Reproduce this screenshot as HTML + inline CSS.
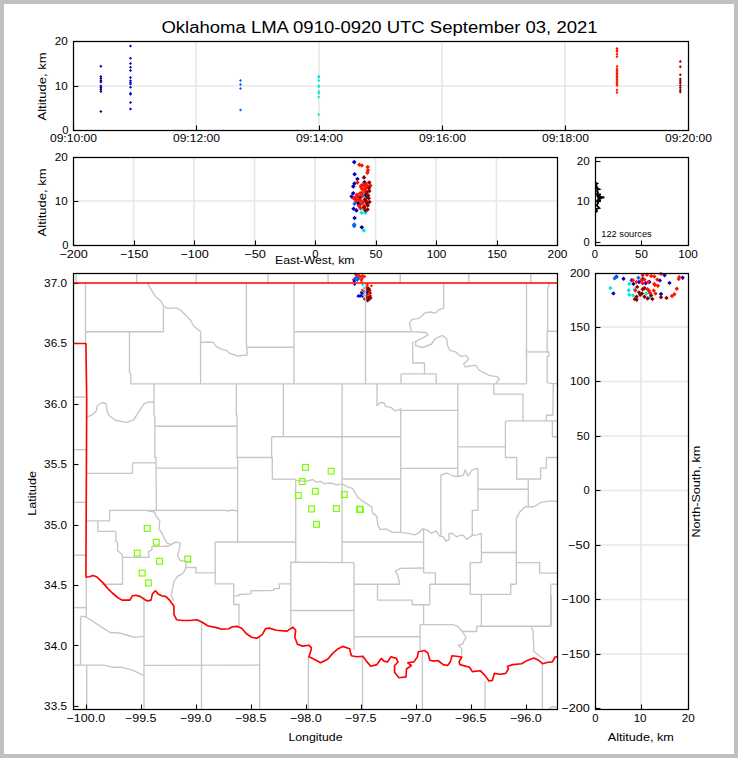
<!DOCTYPE html>
<html><head><meta charset="utf-8"><style>html,body{margin:0;padding:0;background:#c0c0c0;overflow:hidden}svg{display:block}</style></head>
<body><svg width="738" height="758" viewBox="0 0 738 758" font-family='"Liberation Sans", sans-serif'><rect x="0" y="0" width="738" height="758" fill="#c0c0c0"/>
<rect x="4" y="4" width="730" height="750" fill="#fff"/>
<text x="161.40" y="32.60" font-size="16.00" textLength="436.18" lengthAdjust="spacingAndGlyphs" fill="#000" >Oklahoma LMA 0910-0920 UTC September 03, 2021</text>
<line x1="196.00" y1="41.50" x2="196.00" y2="130.50" stroke="#e8e8e8" stroke-width="1.6"/>
<line x1="319.00" y1="41.50" x2="319.00" y2="130.50" stroke="#e8e8e8" stroke-width="1.6"/>
<line x1="442.00" y1="41.50" x2="442.00" y2="130.50" stroke="#e8e8e8" stroke-width="1.6"/>
<line x1="565.00" y1="41.50" x2="565.00" y2="130.50" stroke="#e8e8e8" stroke-width="1.6"/>
<line x1="73.50" y1="86.00" x2="688.50" y2="86.00" stroke="#e8e8e8" stroke-width="1.6"/>
<g fill="#00008c"><path d="M100.9 64.8L102.4 66.3L100.9 67.8L99.4 66.3Z"/><path d="M100.9 74.9L102.4 76.4L100.9 77.9L99.4 76.4Z"/><path d="M100.9 77.1L102.4 78.6L100.9 80.1L99.4 78.6Z"/><path d="M100.9 79.2L102.4 80.7L100.9 82.2L99.4 80.7Z"/><path d="M100.9 80.6L102.4 82.1L100.9 83.6L99.4 82.1Z"/><path d="M100.9 84.6L102.4 86.1L100.9 87.6L99.4 86.1Z"/><path d="M100.9 86.3L102.4 87.8L100.9 89.3L99.4 87.8Z"/><path d="M100.9 87.9L102.4 89.4L100.9 90.9L99.4 89.4Z"/><path d="M100.9 90.1L102.4 91.6L100.9 93.1L99.4 91.6Z"/><path d="M100.9 110.1L102.4 111.6L100.9 113.1L99.4 111.6Z"/></g>
<g fill="#0000c0"><path d="M130.5 44.6L132.0 46.1L130.5 47.6L129.0 46.1Z"/><path d="M130.5 56.8L132.0 58.3L130.5 59.8L129.0 58.3Z"/><path d="M130.5 61.9L132.0 63.4L130.5 64.9L129.0 63.4Z"/><path d="M130.5 65.7L132.0 67.2L130.5 68.7L129.0 67.2Z"/><path d="M130.5 69.0L132.0 70.5L130.5 72.0L129.0 70.5Z"/><path d="M130.5 76.0L132.0 77.5L130.5 79.0L129.0 77.5Z"/><path d="M130.5 79.2L132.0 80.7L130.5 82.2L129.0 80.7Z"/><path d="M130.5 80.9L132.0 82.4L130.5 83.9L129.0 82.4Z"/><path d="M130.5 82.5L132.0 84.0L130.5 85.5L129.0 84.0Z"/><path d="M130.5 85.7L132.0 87.2L130.5 88.7L129.0 87.2Z"/><path d="M130.5 91.7L132.0 93.2L130.5 94.7L129.0 93.2Z"/><path d="M130.5 92.8L132.0 94.3L130.5 95.8L129.0 94.3Z"/><path d="M130.5 100.9L132.0 102.4L130.5 103.9L129.0 102.4Z"/><path d="M130.5 107.4L132.0 108.9L130.5 110.4L129.0 108.9Z"/></g>
<g fill="#0064ff"><path d="M240.5 79.1L242.0 80.6L240.5 82.1L239.0 80.6Z"/><path d="M240.5 83.1L242.0 84.6L240.5 86.1L239.0 84.6Z"/><path d="M240.5 87.0L242.0 88.5L240.5 90.0L239.0 88.5Z"/><path d="M240.5 108.4L242.0 109.9L240.5 111.4L239.0 109.9Z"/></g>
<g fill="#00e6dc"><path d="M318.7 74.8L320.2 76.3L318.7 77.8L317.2 76.3Z"/><path d="M318.7 75.8L320.2 77.3L318.7 78.8L317.2 77.3Z"/><path d="M318.7 79.0L320.2 80.5L318.7 82.0L317.2 80.5Z"/><path d="M318.7 84.5L320.2 86.0L318.7 87.5L317.2 86.0Z"/><path d="M318.7 85.3L320.2 86.8L318.7 88.3L317.2 86.8Z"/><path d="M318.7 89.9L320.2 91.4L318.7 92.9L317.2 91.4Z"/><path d="M318.7 91.8L320.2 93.3L318.7 94.8L317.2 93.3Z"/><path d="M318.7 95.5L320.2 97.0L318.7 98.5L317.2 97.0Z"/><path d="M318.7 113.0L320.2 114.5L318.7 116.0L317.2 114.5Z"/></g>
<g fill="#ff1400"><path d="M617.0 47.1L618.5 48.6L617.0 50.1L615.5 48.6Z"/><path d="M617.0 48.6L618.5 50.1L617.0 51.6L615.5 50.1Z"/><path d="M617.0 50.1L618.5 51.6L617.0 53.1L615.5 51.6Z"/><path d="M617.0 52.7L618.5 54.2L617.0 55.7L615.5 54.2Z"/><path d="M617.0 55.2L618.5 56.7L617.0 58.2L615.5 56.7Z"/><path d="M617.0 65.0L618.5 66.5L617.0 68.0L615.5 66.5Z"/><path d="M617.0 67.5L618.5 69.0L617.0 70.5L615.5 69.0Z"/><path d="M617.0 69.0L618.5 70.5L617.0 72.0L615.5 70.5Z"/><path d="M617.0 70.5L618.5 72.0L617.0 73.5L615.5 72.0Z"/><path d="M617.0 72.0L618.5 73.5L617.0 75.0L615.5 73.5Z"/><path d="M617.0 73.5L618.5 75.0L617.0 76.5L615.5 75.0Z"/><path d="M617.0 75.0L618.5 76.5L617.0 78.0L615.5 76.5Z"/><path d="M617.0 76.5L618.5 78.0L617.0 79.5L615.5 78.0Z"/><path d="M617.0 78.0L618.5 79.5L617.0 81.0L615.5 79.5Z"/><path d="M617.0 79.5L618.5 81.0L617.0 82.5L615.5 81.0Z"/><path d="M617.0 81.0L618.5 82.5L617.0 84.0L615.5 82.5Z"/><path d="M617.0 82.5L618.5 84.0L617.0 85.5L615.5 84.0Z"/><path d="M617.0 84.0L618.5 85.5L617.0 87.0L615.5 85.5Z"/><path d="M617.0 88.4L618.5 89.9L617.0 91.4L615.5 89.9Z"/><path d="M617.0 91.0L618.5 92.5L617.0 94.0L615.5 92.5Z"/></g>
<g fill="#8c0000"><path d="M680.3 60.1L681.8 61.6L680.3 63.1L678.8 61.6Z"/><path d="M680.3 65.3L681.8 66.8L680.3 68.3L678.8 66.8Z"/><path d="M680.3 73.2L681.8 74.7L680.3 76.2L678.8 74.7Z"/><path d="M680.3 77.5L681.8 79.0L680.3 80.5L678.8 79.0Z"/><path d="M680.3 79.5L681.8 81.0L680.3 82.5L678.8 81.0Z"/><path d="M680.3 81.5L681.8 83.0L680.3 84.5L678.8 83.0Z"/><path d="M680.3 84.0L681.8 85.5L680.3 87.0L678.8 85.5Z"/><path d="M680.3 86.2L681.8 87.7L680.3 89.2L678.8 87.7Z"/><path d="M680.3 88.5L681.8 90.0L680.3 91.5L678.8 90.0Z"/><path d="M680.3 90.4L681.8 91.9L680.3 93.4L678.8 91.9Z"/></g>
<rect x="73.50" y="41.50" width="615.00" height="89.00" fill="none" stroke="#000" stroke-width="1.25"/>
<line x1="73.50" y1="125.50" x2="73.50" y2="130.50" stroke="#000" stroke-width="1.1"/>
<line x1="196.50" y1="125.50" x2="196.50" y2="130.50" stroke="#000" stroke-width="1.1"/>
<line x1="319.50" y1="125.50" x2="319.50" y2="130.50" stroke="#000" stroke-width="1.1"/>
<line x1="442.50" y1="125.50" x2="442.50" y2="130.50" stroke="#000" stroke-width="1.1"/>
<line x1="565.50" y1="125.50" x2="565.50" y2="130.50" stroke="#000" stroke-width="1.1"/>
<line x1="688.50" y1="125.50" x2="688.50" y2="130.50" stroke="#000" stroke-width="1.1"/>
<line x1="73.50" y1="130.50" x2="78.50" y2="130.50" stroke="#000" stroke-width="1.1"/>
<line x1="73.50" y1="86.50" x2="78.50" y2="86.50" stroke="#000" stroke-width="1.1"/>
<line x1="73.50" y1="41.50" x2="78.50" y2="41.50" stroke="#000" stroke-width="1.1"/>
<text x="49.90" y="141.60" font-size="11.00" textLength="47.16" lengthAdjust="spacingAndGlyphs" fill="#000" >09:10:00</text>
<text x="172.90" y="141.60" font-size="11.00" textLength="47.16" lengthAdjust="spacingAndGlyphs" fill="#000" >09:12:00</text>
<text x="295.90" y="141.60" font-size="11.00" textLength="47.16" lengthAdjust="spacingAndGlyphs" fill="#000" >09:14:00</text>
<text x="418.90" y="141.60" font-size="11.00" textLength="47.16" lengthAdjust="spacingAndGlyphs" fill="#000" >09:16:00</text>
<text x="541.90" y="141.60" font-size="11.00" textLength="47.16" lengthAdjust="spacingAndGlyphs" fill="#000" >09:18:00</text>
<text x="664.90" y="141.60" font-size="11.00" textLength="47.16" lengthAdjust="spacingAndGlyphs" fill="#000" >09:20:00</text>
<text x="62.30" y="134.40" font-size="11.00" textLength="6.20" lengthAdjust="spacingAndGlyphs" fill="#000" >0</text>
<text x="54.81" y="89.90" font-size="11.00" textLength="12.91" lengthAdjust="spacingAndGlyphs" fill="#000" >10</text>
<text x="54.72" y="45.40" font-size="11.00" textLength="13.00" lengthAdjust="spacingAndGlyphs" fill="#000" >20</text>
<text x="-34.03" y="0" font-size="10.90" textLength="68.09" lengthAdjust="spacingAndGlyphs" fill="#000" transform="translate(46.30 86.50) rotate(-90)" >Altitude, km</text>
<line x1="133.50" y1="157.50" x2="133.50" y2="245.50" stroke="#e8e8e8" stroke-width="1.6"/>
<line x1="194.00" y1="157.50" x2="194.00" y2="245.50" stroke="#e8e8e8" stroke-width="1.6"/>
<line x1="254.50" y1="157.50" x2="254.50" y2="245.50" stroke="#e8e8e8" stroke-width="1.6"/>
<line x1="315.00" y1="157.50" x2="315.00" y2="245.50" stroke="#e8e8e8" stroke-width="1.6"/>
<line x1="375.50" y1="157.50" x2="375.50" y2="245.50" stroke="#e8e8e8" stroke-width="1.6"/>
<line x1="436.00" y1="157.50" x2="436.00" y2="245.50" stroke="#e8e8e8" stroke-width="1.6"/>
<line x1="496.50" y1="157.50" x2="496.50" y2="245.50" stroke="#e8e8e8" stroke-width="1.6"/>
<line x1="73.50" y1="201.00" x2="557.50" y2="201.00" stroke="#e8e8e8" stroke-width="1.6"/>
<g fill="#00008c"><path d="M364.5 179.9L366.8 182.2L364.5 184.5L362.2 182.2Z"/><path d="M359.2 202.5L361.5 204.8L359.2 207.1L356.9 204.8Z"/><path d="M358.2 200.8L360.5 203.1L358.2 205.4L355.9 203.1Z"/><path d="M365.4 192.6L367.7 194.9L365.4 197.2L363.1 194.9Z"/><path d="M361.8 224.9L364.1 227.2L361.8 229.5L359.5 227.2Z"/><path d="M360.2 195.2L362.5 197.5L360.2 199.8L357.9 197.5Z"/></g>
<g fill="#0000c0"><path d="M354.2 159.8L356.5 162.1L354.2 164.4L351.9 162.1Z"/><path d="M354.6 172.0L356.9 174.3L354.6 176.6L352.3 174.3Z"/><path d="M357.4 176.7L359.7 179.0L357.4 181.3L355.1 179.0Z"/><path d="M354.5 181.2L356.8 183.5L354.5 185.8L352.2 183.5Z"/><path d="M353.3 184.1L355.6 186.4L353.3 188.7L351.0 186.4Z"/><path d="M353.2 191.0L355.5 193.3L353.2 195.6L350.9 193.3Z"/><path d="M351.6 194.2L353.9 196.5L351.6 198.8L349.3 196.5Z"/><path d="M356.5 208.1L358.8 210.4L356.5 212.7L354.2 210.4Z"/><path d="M353.6 206.4L355.9 208.7L353.6 211.0L351.3 208.7Z"/><path d="M354.6 215.7L356.9 218.0L354.6 220.3L352.3 218.0Z"/></g>
<g fill="#0064ff"><path d="M354.6 201.5L356.9 203.8L354.6 206.1L352.3 203.8Z"/><path d="M354.2 223.6L356.5 225.9L354.2 228.2L351.9 225.9Z"/><path d="M355.5 195.2L357.8 197.5L355.5 199.8L353.2 197.5Z"/><path d="M354.2 222.3L356.5 224.6L354.2 226.9L351.9 224.6Z"/></g>
<g fill="#00e6dc"><path d="M361.5 210.4L363.8 212.7L361.5 215.0L359.2 212.7Z"/><path d="M365.4 210.4L367.7 212.7L365.4 215.0L363.1 212.7Z"/><path d="M363.8 228.2L366.1 230.5L363.8 232.8L361.5 230.5Z"/><path d="M363.5 206.8L365.8 209.1L363.5 211.4L361.2 209.1Z"/><path d="M364.8 189.6L367.1 191.9L364.8 194.2L362.5 191.9Z"/><path d="M362.8 193.9L365.1 196.2L362.8 198.5L360.5 196.2Z"/></g>
<g fill="#ff1400"><path d="M359.3 162.5L361.6 164.8L359.3 167.1L357.0 164.8Z"/><path d="M361.8 163.2L364.1 165.5L361.8 167.8L359.5 165.5Z"/><path d="M367.7 164.8L370.0 167.1L367.7 169.4L365.4 167.1Z"/><path d="M368.0 168.0L370.3 170.3L368.0 172.6L365.7 170.3Z"/><path d="M367.4 170.4L369.7 172.7L367.4 175.0L365.1 172.7Z"/><path d="M357.4 180.2L359.7 182.5L357.4 184.8L355.1 182.5Z"/><path d="M370.3 183.2L372.6 185.5L370.3 187.8L368.0 185.5Z"/><path d="M361.4 183.3L363.7 185.6L361.4 187.9L359.1 185.6Z"/><path d="M353.6 195.9L355.9 198.2L353.6 200.5L351.3 198.2Z"/><path d="M356.9 192.6L359.2 194.9L356.9 197.2L354.6 194.9Z"/><path d="M360.2 190.9L362.5 193.2L360.2 195.5L357.9 193.2Z"/><path d="M362.1 186.7L364.4 189.0L362.1 191.3L359.8 189.0Z"/><path d="M364.8 184.0L367.1 186.3L364.8 188.6L362.5 186.3Z"/><path d="M370.0 183.4L372.3 185.7L370.0 188.0L367.7 185.7Z"/><path d="M360.2 197.9L362.5 200.2L360.2 202.5L357.9 200.2Z"/><path d="M360.5 205.8L362.8 208.1L360.5 210.4L358.2 208.1Z"/><path d="M364.1 203.8L366.4 206.1L364.1 208.4L361.8 206.1Z"/><path d="M366.8 189.3L369.1 191.6L366.8 193.9L364.5 191.6Z"/><path d="M358.0 193.7L360.3 196.0L358.0 198.3L355.7 196.0Z"/><path d="M362.0 193.7L364.3 196.0L362.0 198.3L359.7 196.0Z"/><path d="M364.0 187.7L366.3 190.0L364.0 192.3L361.7 190.0Z"/><path d="M366.0 185.7L368.3 188.0L366.0 190.3L363.7 188.0Z"/><path d="M363.0 199.7L365.3 202.0L363.0 204.3L360.7 202.0Z"/><path d="M356.0 198.7L358.3 201.0L356.0 203.3L353.7 201.0Z"/><path d="M367.0 183.7L369.3 186.0L367.0 188.3L364.7 186.0Z"/><path d="M361.0 184.7L363.3 187.0L361.0 189.3L358.7 187.0Z"/><path d="M363.5 182.2L365.8 184.5L363.5 186.8L361.2 184.5Z"/><path d="M366.0 181.7L368.3 184.0L366.0 186.3L363.7 184.0Z"/><path d="M362.0 190.7L364.3 193.0L362.0 195.3L359.7 193.0Z"/><path d="M358.5 197.2L360.8 199.5L358.5 201.8L356.2 199.5Z"/><path d="M355.5 196.7L357.8 199.0L355.5 201.3L353.2 199.0Z"/><path d="M361.5 201.2L363.8 203.5L361.5 205.8L359.2 203.5Z"/><path d="M359.0 203.7L361.3 206.0L359.0 208.3L356.7 206.0Z"/></g>
<g fill="#8c0000"><path d="M364.0 175.1L366.3 177.4L364.0 179.7L361.7 177.4Z"/><path d="M369.3 180.2L371.6 182.5L369.3 184.8L367.0 182.5Z"/><path d="M369.3 188.6L371.6 190.9L369.3 193.2L367.0 190.9Z"/><path d="M368.1 193.2L370.4 195.5L368.1 197.8L365.8 195.5Z"/><path d="M368.7 195.9L371.0 198.2L368.7 200.5L366.4 198.2Z"/><path d="M364.8 197.2L367.1 199.5L364.8 201.8L362.5 199.5Z"/><path d="M366.8 201.2L369.1 203.5L366.8 205.8L364.5 203.5Z"/><path d="M367.7 203.1L370.0 205.4L367.7 207.7L365.4 205.4Z"/><path d="M364.1 205.1L366.4 207.4L364.1 209.7L361.8 207.4Z"/><path d="M367.0 194.7L369.3 197.0L367.0 199.3L364.7 197.0Z"/><path d="M366.0 198.7L368.3 201.0L366.0 203.3L363.7 201.0Z"/><path d="M369.0 185.7L371.3 188.0L369.0 190.3L366.7 188.0Z"/><path d="M366.5 190.7L368.8 193.0L366.5 195.3L364.2 193.0Z"/><path d="M369.5 199.7L371.8 202.0L369.5 204.3L367.2 202.0Z"/><path d="M367.5 207.2L369.8 209.5L367.5 211.8L365.2 209.5Z"/><path d="M365.5 208.2L367.8 210.5L365.5 212.8L363.2 210.5Z"/></g>
<rect x="73.50" y="157.50" width="484.00" height="88.00" fill="none" stroke="#000" stroke-width="1.25"/>
<line x1="73.50" y1="240.50" x2="73.50" y2="245.50" stroke="#000" stroke-width="1.1"/>
<line x1="134.50" y1="240.50" x2="134.50" y2="245.50" stroke="#000" stroke-width="1.1"/>
<line x1="194.50" y1="240.50" x2="194.50" y2="245.50" stroke="#000" stroke-width="1.1"/>
<line x1="255.50" y1="240.50" x2="255.50" y2="245.50" stroke="#000" stroke-width="1.1"/>
<line x1="315.50" y1="240.50" x2="315.50" y2="245.50" stroke="#000" stroke-width="1.1"/>
<line x1="376.50" y1="240.50" x2="376.50" y2="245.50" stroke="#000" stroke-width="1.1"/>
<line x1="436.50" y1="240.50" x2="436.50" y2="245.50" stroke="#000" stroke-width="1.1"/>
<line x1="497.50" y1="240.50" x2="497.50" y2="245.50" stroke="#000" stroke-width="1.1"/>
<line x1="557.50" y1="240.50" x2="557.50" y2="245.50" stroke="#000" stroke-width="1.1"/>
<line x1="73.50" y1="245.50" x2="78.50" y2="245.50" stroke="#000" stroke-width="1.1"/>
<line x1="73.50" y1="201.50" x2="78.50" y2="201.50" stroke="#000" stroke-width="1.1"/>
<line x1="73.50" y1="157.50" x2="78.50" y2="157.50" stroke="#000" stroke-width="1.1"/>
<text x="59.43" y="258.10" font-size="11.00" textLength="28.40" lengthAdjust="spacingAndGlyphs" fill="#000" >−200</text>
<text x="119.93" y="258.10" font-size="11.00" textLength="28.40" lengthAdjust="spacingAndGlyphs" fill="#000" >−150</text>
<text x="180.43" y="258.10" font-size="11.00" textLength="28.40" lengthAdjust="spacingAndGlyphs" fill="#000" >−100</text>
<text x="244.29" y="258.10" font-size="11.00" textLength="21.67" lengthAdjust="spacingAndGlyphs" fill="#000" >−50</text>
<text x="312.37" y="258.10" font-size="11.00" textLength="6.20" lengthAdjust="spacingAndGlyphs" fill="#000" >0</text>
<text x="369.59" y="258.10" font-size="11.00" textLength="12.87" lengthAdjust="spacingAndGlyphs" fill="#000" >50</text>
<text x="426.66" y="258.10" font-size="11.00" textLength="19.73" lengthAdjust="spacingAndGlyphs" fill="#000" >100</text>
<text x="487.16" y="258.10" font-size="11.00" textLength="19.73" lengthAdjust="spacingAndGlyphs" fill="#000" >150</text>
<text x="547.58" y="258.10" font-size="11.00" textLength="19.81" lengthAdjust="spacingAndGlyphs" fill="#000" >200</text>
<text x="62.30" y="249.40" font-size="11.00" textLength="6.20" lengthAdjust="spacingAndGlyphs" fill="#000" >0</text>
<text x="54.81" y="205.40" font-size="11.00" textLength="12.91" lengthAdjust="spacingAndGlyphs" fill="#000" >10</text>
<text x="54.72" y="161.40" font-size="11.00" textLength="13.00" lengthAdjust="spacingAndGlyphs" fill="#000" >20</text>
<text x="-34.03" y="0" font-size="10.90" textLength="68.09" lengthAdjust="spacingAndGlyphs" fill="#000" transform="translate(46.30 202.40) rotate(-90)" >Altitude, km</text>
<text x="275.04" y="263.60" font-size="10.90" textLength="79.48" lengthAdjust="spacingAndGlyphs" fill="#000" >East-West, km</text>
<path fill="none" stroke="#000" stroke-width="1.8" stroke-linejoin="miter" d="M595.6 182.0L596.0 183.0L597.3 183.5L596.2 184.3L596.4 186.0L597.2 187.3L596.5 188.0L599.3 189.2L597.0 190.0L597.2 191.5L598.0 192.3L597.0 193.5L600.8 194.6L597.2 195.2L597.5 196.4L604.4 197.4L597.5 198.3L600.0 199.0L598.0 200.0L600.8 200.8L597.5 201.5L598.2 203.0L597.0 204.5L597.2 206.0L599.3 208.0L596.6 208.8L596.5 210.0L597.0 211.0L595.9 212.0L595.6 212.8"/>
<rect x="595.50" y="157.50" width="93.00" height="88.00" fill="none" stroke="#000" stroke-width="1.25"/>
<line x1="595.50" y1="240.50" x2="595.50" y2="245.50" stroke="#000" stroke-width="1.1"/>
<line x1="641.50" y1="240.50" x2="641.50" y2="245.50" stroke="#000" stroke-width="1.1"/>
<line x1="688.50" y1="240.50" x2="688.50" y2="245.50" stroke="#000" stroke-width="1.1"/>
<line x1="595.50" y1="242.50" x2="600.50" y2="242.50" stroke="#000" stroke-width="1.1"/>
<line x1="595.50" y1="201.50" x2="600.50" y2="201.50" stroke="#000" stroke-width="1.1"/>
<line x1="595.50" y1="161.50" x2="600.50" y2="161.50" stroke="#000" stroke-width="1.1"/>
<text x="591.87" y="258.10" font-size="11.00" textLength="6.20" lengthAdjust="spacingAndGlyphs" fill="#000" >0</text>
<text x="635.09" y="258.10" font-size="11.00" textLength="12.87" lengthAdjust="spacingAndGlyphs" fill="#000" >50</text>
<text x="678.16" y="258.10" font-size="11.00" textLength="19.73" lengthAdjust="spacingAndGlyphs" fill="#000" >100</text>
<text x="583.50" y="245.90" font-size="11.00" textLength="6.20" lengthAdjust="spacingAndGlyphs" fill="#000" >0</text>
<text x="576.81" y="204.75" font-size="11.00" textLength="12.91" lengthAdjust="spacingAndGlyphs" fill="#000" >10</text>
<text x="576.72" y="165.20" font-size="11.00" textLength="13.00" lengthAdjust="spacingAndGlyphs" fill="#000" >20</text>
<text x="601.32" y="237.30" font-size="8.70" textLength="50.33" lengthAdjust="spacingAndGlyphs" fill="#000" >122 sources</text>
<g fill="#ff1400"><path d="M355.5 272.8L357.1 274.3L355.5 275.9L353.9 274.3Z"/><path d="M357.5 272.9L359.1 274.5L357.5 276.1L355.9 274.5Z"/><path d="M359.5 273.9L361.1 275.5L359.5 277.1L357.9 275.5Z"/><path d="M361.0 274.9L362.6 276.5L361.0 278.1L359.4 276.5Z"/><path d="M356.5 274.4L358.1 276.0L356.5 277.6L354.9 276.0Z"/><path d="M358.5 275.4L360.1 277.0L358.5 278.6L356.9 277.0Z"/><path d="M363.8 274.6L365.4 276.1L363.8 277.7L362.2 276.1Z"/><path d="M364.7 275.1L366.2 276.7L364.7 278.2L363.1 276.7Z"/><path d="M362.5 273.9L364.1 275.5L362.5 277.1L360.9 275.5Z"/><path d="M361.9 277.8L363.4 279.4L361.9 280.9L360.3 279.4Z"/><path d="M361.3 279.3L362.9 280.9L361.3 282.4L359.8 280.9Z"/><path d="M353.4 278.1L354.9 279.7L353.4 281.2L351.8 279.7Z"/><path d="M360.0 276.9L361.6 278.5L360.0 280.1L358.4 278.5Z"/><path d="M362.5 276.4L364.1 278.0L362.5 279.6L360.9 278.0Z"/></g>
<g fill="#0064ff"><path d="M356.2 277.6L357.8 279.1L356.2 280.7L354.6 279.1Z"/><path d="M355.0 276.4L356.6 278.0L355.0 279.6L353.4 278.0Z"/><path d="M357.4 276.4L358.9 278.0L357.4 279.6L355.8 278.0Z"/><path d="M355.5 278.9L357.1 280.5L355.5 282.1L353.9 280.5Z"/><path d="M357.3 278.8L358.9 280.3L357.3 281.9L355.8 280.3Z"/><path d="M356.3 275.6L357.9 277.2L356.3 278.8L354.8 277.2Z"/><path d="M354.8 277.9L356.4 279.5L354.8 281.1L353.2 279.5Z"/><path d="M358.0 277.6L359.6 279.2L358.0 280.8L356.4 279.2Z"/></g>
<g fill="#0000c0"><path d="M354.0 279.6L355.6 281.2L354.0 282.8L352.4 281.2Z"/><path d="M354.6 282.8L356.2 284.3L354.6 285.9L353.1 284.3Z"/><path d="M358.9 294.1L360.4 295.6L358.9 297.2L357.3 295.6Z"/><path d="M361.0 293.6L362.6 295.2L361.0 296.8L359.4 295.2Z"/><path d="M362.5 291.9L364.1 293.5L362.5 295.1L360.9 293.5Z"/><path d="M361.2 290.9L362.8 292.5L361.2 294.1L359.6 292.5Z"/><path d="M362.6 294.9L364.2 296.5L362.6 298.1L361.1 296.5Z"/><path d="M358.0 294.6L359.6 296.2L358.0 297.8L356.4 296.2Z"/><path d="M360.0 294.9L361.6 296.5L360.0 298.1L358.4 296.5Z"/></g>
<g fill="#00e6dc"><path d="M364.4 286.4L365.9 288.0L364.4 289.6L362.8 288.0Z"/><path d="M362.6 283.1L364.2 284.6L362.6 286.2L361.1 284.6Z"/><path d="M363.8 293.8L365.4 295.3L363.8 296.9L362.2 295.3Z"/></g>
<g fill="#8c0000"><path d="M367.7 287.1L369.2 288.6L367.7 290.2L366.1 288.6Z"/><path d="M368.7 288.8L370.2 290.4L368.7 291.9L367.1 290.4Z"/><path d="M367.1 292.4L368.7 294.0L367.1 295.6L365.6 294.0Z"/><path d="M370.5 294.3L372.1 295.9L370.5 297.4L368.9 295.9Z"/><path d="M368.7 296.8L370.2 298.3L368.7 299.9L367.1 298.3Z"/><path d="M368.0 298.6L369.6 300.1L368.0 301.7L366.4 300.1Z"/><path d="M364.4 297.3L365.9 298.9L364.4 300.4L362.8 298.9Z"/><path d="M367.0 285.9L368.6 287.5L367.0 289.1L365.4 287.5Z"/><path d="M369.0 290.9L370.6 292.5L369.0 294.1L367.4 292.5Z"/><path d="M366.5 294.4L368.1 296.0L366.5 297.6L364.9 296.0Z"/><path d="M370.0 295.9L371.6 297.5L370.0 299.1L368.4 297.5Z"/><path d="M367.5 289.9L369.1 291.5L367.5 293.1L365.9 291.5Z"/><path d="M366.5 287.9L368.1 289.5L366.5 291.1L364.9 289.5Z"/><path d="M369.5 287.4L371.1 289.0L369.5 290.6L367.9 289.0Z"/><path d="M370.5 291.4L372.1 293.0L370.5 294.6L368.9 293.0Z"/><path d="M369.0 294.9L370.6 296.5L369.0 298.1L367.4 296.5Z"/><path d="M371.0 296.4L372.6 298.0L371.0 299.6L369.4 298.0Z"/><path d="M366.8 297.9L368.4 299.5L366.8 301.1L365.2 299.5Z"/><path d="M368.5 286.4L370.1 288.0L368.5 289.6L366.9 288.0Z"/><path d="M370.0 288.9L371.6 290.5L370.0 292.1L368.4 290.5Z"/><path d="M366.8 295.9L368.4 297.5L366.8 299.1L365.2 297.5Z"/><path d="M369.5 297.9L371.1 299.5L369.5 301.1L367.9 299.5Z"/><path d="M367.5 299.4L369.1 301.0L367.5 302.6L365.9 301.0Z"/></g>
<g fill="#ff1400"><path d="M362.3 288.6L363.9 290.1L362.3 291.7L360.8 290.1Z"/><path d="M364.1 290.1L365.7 291.6L364.1 293.2L362.6 291.6Z"/><path d="M367.4 284.6L368.9 286.1L367.4 287.7L365.8 286.1Z"/><path d="M371.4 284.2L372.9 285.8L371.4 287.4L369.8 285.8Z"/><path d="M369.9 290.1L371.4 291.6L369.9 293.2L368.3 291.6Z"/><path d="M369.3 293.1L370.9 294.7L369.3 296.2L367.8 294.7Z"/><path d="M367.4 283.1L368.9 284.6L367.4 286.2L365.8 284.6Z"/></g>
<g fill="#0000c0"><path d="M366.8 290.6L368.4 292.2L366.8 293.8L365.2 292.2Z"/></g>
<g fill="none" stroke="#c6c6c6" stroke-width="1.35" stroke-linejoin="round"><path d="M76.2 273.5L76.2 283.0"/><path d="M136.6 273.5L136.6 283.0"/><path d="M196.2 273.5L196.2 283.0"/><path d="M268.0 273.5L268.0 283.0"/><path d="M328.1 273.5L328.1 283.0"/><path d="M400.2 273.5L400.2 283.0"/><path d="M468.8 273.5L468.8 283.0"/><path d="M530.8 273.5L530.8 283.0"/><path d="M85.5 283.0L85.5 343.5"/><path d="M85.5 331.7L163.4 331.7"/><path d="M163.4 307.9L163.4 331.7"/><path d="M147.5 283.2L151.0 289.4L155.4 296.4L160.7 300.8L164.2 307.0L168.6 308.4L176.6 307.9L181.0 310.5L186.3 315.8L190.7 320.2L193.3 325.5L199.7 331.3"/><path d="M129.5 332.0L129.5 373.0L130.8 374.0L130.8 383.8"/><path d="M130.8 383.8L526.5 383.8"/><path d="M199.7 331.3L200.6 331.3L200.6 383.8"/><path d="M200.6 342.2L212.9 342.2L216.4 346.6L221.7 349.3L226.1 350.1L228.8 352.8L237.6 356.0L242.8 355.4L247.2 355.0"/><path d="M246.4 283.0L246.4 342.0L247.2 355.0"/><path d="M247.2 347.2L294.5 347.2"/><path d="M294.0 283.0L294.0 383.8"/><path d="M294.5 331.7L411.3 331.7"/><path d="M365.5 283.0L365.5 383.8"/><path d="M411.3 331.7L409.5 322.8L412.2 319.3L419.2 318.4L424.5 313.2L430.0 312.0L434.4 313.0L437.0 311.9L437.9 310.2L440.6 309.1L443.7 308.4"/><path d="M443.7 283.0L443.7 308.4"/><path d="M411.3 331.7L426.3 332.5L428.0 335.2L422.7 337.8L415.7 341.3L415.7 345.7L422.7 347.5L431.5 344.0L435.3 338.7L442.3 335.5L446.7 338.7L447.6 345.7L449.4 350.1L455.5 351.9L460.8 356.3L466.1 355.4L468.8 359.0L463.5 364.2L465.2 366.9L470.5 366.0L475.8 365.1L478.4 369.5L482.8 372.2L489.9 375.7L496.9 376.6L499.6 379.2L496.0 382.7L497.0 383.8"/><path d="M414.0 341.5L412.7 343.0L412.7 363.0L424.5 363.0L424.5 373.9"/><path d="M401.0 373.9L436.2 373.9"/><path d="M401.0 373.9L401.0 383.8"/><path d="M436.2 373.9L436.2 383.8"/><path d="M526.5 283.0L526.5 383.8"/><path d="M526.5 351.9L548.9 351.9"/><path d="M549.0 283.0L548.5 287.0L547.7 288.0L547.7 331.3"/><path d="M547.1 331.3L557.4 331.3"/><path d="M547.1 331.3L547.1 351.9L548.9 351.9L548.9 356.3L547.1 356.3L547.1 382.7L553.3 383.6L557.4 383.6"/><path d="M73.5 397.1L85.9 397.1"/><path d="M73.5 449.6L85.9 449.6"/><path d="M86.7 417.3L92.9 414.3L96.4 410.8L97.3 405.5L102.6 402.5L106.1 403.8L107.0 410.8L108.8 415.2L115.8 420.5L126.4 422.3L134.3 419.6L136.9 414.3L140.5 409.1L144.0 403.8L148.4 402.0L152.8 402.0L154.0 402.0"/><path d="M154.0 383.8L154.0 416.1L154.9 416.1L154.9 457.5L156.0 457.5L156.3 510.3"/><path d="M154.9 426.2L236.9 426.2"/><path d="M156.3 468.1L237.6 468.1"/><path d="M132.5 462.8L156.0 462.8"/><path d="M132.5 462.8L132.5 473.4"/><path d="M86.7 473.4L132.5 473.4"/><path d="M236.3 383.8L236.3 415.2L237.0 415.2L237.0 457.5L237.6 457.5L237.6 542.0"/><path d="M283.4 383.8L283.4 436.7"/><path d="M271.6 436.7L400.7 436.7"/><path d="M271.6 436.7L271.6 457.5L272.3 457.5L272.3 479.2"/><path d="M236.7 457.5L271.6 457.5"/><path d="M272.3 479.2L295.7 479.2"/><path d="M295.7 480.4L306.3 481.3L312.6 479.5L316.2 482.2L320.6 481.3L324.1 483.6L331.1 483.0L336.4 484.8L342.1 483.9L347.0 486.6L352.3 488.3L355.0 492.7L357.6 497.1L362.8 501.4L371.7 506.7L372.5 512.9L376.9 516.4L377.8 525.2L380.5 529.6L385.7 528.8L392.8 532.3L400.7 532.3L406.9 533.2L414.8 534.9L418.3 533.2L422.7 528.8L426.3 529.6L431.5 533.2L436.2 530.9L439.7 536.2L443.2 536.7L445.9 541.1L449.4 539.3L448.5 534.0L452.0 533.2L456.4 536.7L462.6 534.9L467.0 539.3L472.3 535.4L477.6 534.9L481.4 533.2"/><path d="M295.7 479.2L295.7 562.2"/><path d="M342.1 383.8L342.1 562.2"/><path d="M377.0 383.8L377.0 405.5L380.5 402.5L384.0 402.9L385.7 406.4L391.0 407.3L394.6 410.8L399.0 410.0L400.7 408.5"/><path d="M400.7 408.5L400.7 532.3"/><path d="M400.7 410.3L457.8 410.3"/><path d="M400.7 468.4L457.8 468.4"/><path d="M342.1 479.0L400.7 479.0"/><path d="M457.8 383.8L457.8 476.5"/><path d="M493.8 383.8L493.8 394.1L523.0 394.1L523.0 420.9"/><path d="M505.4 420.9L557.4 420.9"/><path d="M553.3 383.6L552.8 415.2L546.3 415.2L546.3 420.9"/><path d="M552.4 420.9L552.4 436.7L557.4 436.7"/><path d="M505.4 420.9L505.4 457.5L516.7 457.5L516.7 479.0L540.6 479.0L540.6 468.1L546.3 468.1L546.3 457.5L557.4 457.5"/><path d="M457.8 446.9L505.4 446.9"/><path d="M528.3 479.0L528.3 505.9"/><path d="M477.9 489.2L528.3 489.2"/><path d="M477.9 468.1L477.9 510.3L472.3 510.3L472.3 534.9"/><path d="M440.6 475.1L446.7 473.0L452.9 476.0L458.2 476.5L463.5 475.1L465.2 469.8L467.9 476.0L472.3 469.8L477.9 468.1"/><path d="M440.9 475.1L440.9 536.2"/><path d="M73.5 502.3L85.9 502.3"/><path d="M73.5 555.2L85.9 555.2"/><path d="M73.5 607.7L86.2 607.7"/><path d="M86.2 577.2L86.2 617.0"/><path d="M109.6 510.3L225.2 510.3L228.0 511.0L232.0 510.0L237.6 510.8"/><path d="M109.6 510.3L109.6 520.8L86.7 520.8"/><path d="M97.8 520.8L97.8 531.4L115.8 531.4L115.8 541.1L117.6 542.8L117.6 550.8L122.0 554.3L122.5 557.3"/><path d="M122.5 557.3L149.3 557.3"/><path d="M122.5 557.3L122.5 584.2L101.7 584.2"/><path d="M149.3 557.3L148.4 551.7L151.9 549.9L151.9 546.7L161.6 546.4L168.6 546.0L175.7 542.0L180.1 542.8L179.2 549.9L177.5 555.2L180.1 560.5L186.3 561.3L191.5 562.2"/><path d="M147.5 510.8L154.6 512.0L156.3 516.4L159.8 520.8L159.0 528.8L162.5 534.0L164.2 538.4L166.9 542.8L171.3 544.6L175.7 542.0"/><path d="M186.3 562.2L185.4 569.3L182.7 573.7L177.5 576.3L173.9 581.6L172.2 590.4L171.3 595.7L173.9 601.0"/><path d="M186.3 567.5L196.0 567.5L196.0 572.8L215.2 572.8"/><path d="M144.0 597.0L144.0 709.0"/><path d="M215.2 542.0L296.0 542.0"/><path d="M215.2 542.0L215.2 583.9L233.7 583.9L233.7 596.2L239.0 595.7L239.0 594.5L250.8 593.9L250.8 590.8L273.7 590.4L273.7 588.6L279.3 588.6L279.3 583.9L290.8 583.9"/><path d="M233.7 596.2L233.7 604.5L239.0 604.5L239.0 626.4"/><path d="M290.8 562.2L290.8 627.6"/><path d="M290.8 562.2L354.0 562.6"/><path d="M342.6 542.0L423.6 542.0"/><path d="M423.6 528.8L423.6 572.8L435.4 572.8L435.4 584.2"/><path d="M429.8 584.2L470.2 584.2"/><path d="M429.8 584.2L429.8 604.7"/><path d="M354.0 562.6L354.0 650.0"/><path d="M354.0 584.2L399.8 584.2L398.0 576.3L395.4 571.0L400.7 568.4L423.6 568.0"/><path d="M377.5 584.2L377.5 600.1L412.2 600.1L412.2 604.7L429.8 604.7"/><path d="M423.6 604.7L423.6 624.6"/><path d="M420.1 624.6L452.9 624.6L458.2 626.7L462.6 632.0L466.1 637.3L463.5 641.7L462.6 644.3L458.2 645.2L461.7 648.7L461.7 655.8"/><path d="M420.1 624.6L420.1 650.0"/><path d="M354.0 636.7L420.1 636.7"/><path d="M290.8 610.5L354.0 610.5"/><path d="M481.4 533.2L481.4 562.6"/><path d="M481.4 552.5L516.3 552.5"/><path d="M516.3 518.2L516.3 584.2"/><path d="M516.3 518.2L519.8 512.0L525.1 506.7L533.9 506.7L541.0 502.3L549.8 500.9L557.4 501.5"/><path d="M470.2 562.6L481.4 562.6"/><path d="M516.3 562.6L539.6 562.6L539.6 573.1L557.4 573.1"/><path d="M470.2 562.6L470.2 594.3L510.7 594.3L510.7 584.2L516.3 584.2"/><path d="M481.4 594.3L481.4 626.2"/><path d="M550.7 584.2L550.7 626.2"/><path d="M550.7 584.2L557.4 584.2"/><path d="M86.2 617.0L81.4 616.1L80.6 617.9L80.6 665.1"/><path d="M86.2 617.0L110.5 632.9L116.0 632.5L122.8 633.8L130.0 636.0L135.2 637.3L143.1 636.4L144.0 636.4"/><path d="M73.5 665.1L103.5 665.1L112.3 667.2L121.1 667.2L131.7 669.9L143.1 675.1L144.0 675.5"/><path d="M144.0 665.3L259.6 665.1"/><path d="M86.7 665.1L86.7 709.0"/><path d="M201.5 621.4L201.5 709.0"/><path d="M259.6 637.3L259.6 709.0"/><path d="M308.4 656.7L308.4 709.0"/><path d="M476.7 626.2L551.2 626.2"/><path d="M476.7 626.2L476.7 631.5L462.6 631.5"/><path d="M551.2 595.0L551.2 626.2"/><path d="M531.3 627.2L533.0 631.1L533.9 651.4L539.2 655.8L544.5 659.3"/><path d="M362.5 656.7L362.5 709.0"/><path d="M422.4 651.4L422.4 709.0"/><path d="M485.0 681.3L485.0 709.0"/><path d="M542.4 663.7L542.4 709.0"/><path d="M548.5 709.5L550.5 707.4L553.0 706.5L555.5 706.9L557.4 707.9"/></g>
<line x1="86.50" y1="704.50" x2="86.50" y2="709.50" stroke="#000" stroke-width="1.1"/>
<line x1="141.50" y1="704.50" x2="141.50" y2="709.50" stroke="#000" stroke-width="1.1"/>
<line x1="196.50" y1="704.50" x2="196.50" y2="709.50" stroke="#000" stroke-width="1.1"/>
<line x1="251.50" y1="704.50" x2="251.50" y2="709.50" stroke="#000" stroke-width="1.1"/>
<line x1="306.50" y1="704.50" x2="306.50" y2="709.50" stroke="#000" stroke-width="1.1"/>
<line x1="361.50" y1="704.50" x2="361.50" y2="709.50" stroke="#000" stroke-width="1.1"/>
<line x1="416.50" y1="704.50" x2="416.50" y2="709.50" stroke="#000" stroke-width="1.1"/>
<line x1="471.50" y1="704.50" x2="471.50" y2="709.50" stroke="#000" stroke-width="1.1"/>
<line x1="526.50" y1="704.50" x2="526.50" y2="709.50" stroke="#000" stroke-width="1.1"/>
<line x1="73.50" y1="283.50" x2="78.50" y2="283.50" stroke="#000" stroke-width="1.1"/>
<line x1="73.50" y1="343.50" x2="78.50" y2="343.50" stroke="#000" stroke-width="1.1"/>
<line x1="73.50" y1="404.50" x2="78.50" y2="404.50" stroke="#000" stroke-width="1.1"/>
<line x1="73.50" y1="464.50" x2="78.50" y2="464.50" stroke="#000" stroke-width="1.1"/>
<line x1="73.50" y1="525.50" x2="78.50" y2="525.50" stroke="#000" stroke-width="1.1"/>
<line x1="73.50" y1="585.50" x2="78.50" y2="585.50" stroke="#000" stroke-width="1.1"/>
<line x1="73.50" y1="645.50" x2="78.50" y2="645.50" stroke="#000" stroke-width="1.1"/>
<line x1="73.50" y1="706.50" x2="78.50" y2="706.50" stroke="#000" stroke-width="1.1"/>
<g fill="none" stroke="#ff0000" stroke-width="1.65" stroke-linejoin="round"><path d="M73.5 283.0L557.4 283.0"/><path d="M73.5 343.5L85.9 343.5L86.7 400.0L85.9 577.2"/><path d="M85.9 577.2L89.4 576.7L92.9 575.4L96.4 576.7L99.9 579.8L103.5 583.4L107.9 588.6L112.3 593.0L117.6 597.5L122.0 600.1L129.9 600.1L132.5 595.7L136.1 595.2L140.5 596.6L144.0 599.2L147.5 601.0L151.0 600.1L152.4 593.9L155.4 590.8L158.1 593.9L161.6 595.7L166.0 596.6L169.5 600.1L173.9 606.3L173.9 614.4L176.6 619.7L182.7 620.5L189.8 620.5L197.0 619.7L202.3 622.3L207.6 625.8L216.4 627.6L221.7 629.3L228.8 628.8L232.3 626.7L237.6 626.4L242.0 628.5L246.4 633.8L251.7 637.3L256.9 638.2L262.2 634.6L265.7 628.5L269.3 628.1L276.3 630.2L286.9 631.1L293.0 627.2L295.7 630.2L294.8 637.3L297.5 644.3L302.7 646.1L308.9 645.2L311.5 647.8L310.7 651.4L308.9 656.7L314.2 659.3L320.6 662.8L327.6 659.3L332.9 653.1L338.2 648.7L342.6 646.4L349.6 648.7L351.4 655.8L356.7 656.7L362.8 656.3L366.4 661.1L370.8 666.3L376.9 664.6L381.3 658.4L384.0 661.1L387.5 662.0L391.0 656.7L396.3 658.4L398.0 662.0L394.6 665.5L394.6 672.5L399.0 677.8L406.0 676.9L406.5 669.0L411.3 665.5L407.8 662.8L413.9 661.9L417.5 656.7L418.3 651.7L424.5 650.5L428.0 653.1L429.8 660.2L434.2 661.1L437.9 660.5L443.2 664.6L447.6 665.5L450.3 661.9L452.0 655.8L456.4 656.3L461.7 657.0L459.1 661.9L459.9 664.6L469.6 667.2L472.3 671.6L480.2 670.7L484.6 675.1L489.0 681.0L492.5 680.4L494.3 673.4L500.5 674.3L505.7 673.4L508.4 669.0L507.5 666.3L512.8 664.6L521.6 663.7L526.0 661.1L533.9 658.1L538.3 660.2L542.7 663.7L548.0 662.3L552.4 661.9L555.1 657.0L557.4 656.7"/></g>
<g fill="none" stroke="#7cfc00" stroke-width="1.2"><rect x="302.6" y="464.5" width="5.8" height="5.8"/><rect x="328.2" y="468.3" width="5.8" height="5.8"/><rect x="299.3" y="478.7" width="5.8" height="5.8"/><rect x="295.4" y="492.5" width="5.8" height="5.8"/><rect x="312.5" y="488.4" width="5.8" height="5.8"/><rect x="341.4" y="491.6" width="5.8" height="5.8"/><rect x="308.6" y="506.1" width="5.8" height="5.8"/><rect x="333.5" y="505.6" width="5.8" height="5.8"/><rect x="356.7" y="506.3" width="5.8" height="5.8"/><rect x="357.5" y="506.7" width="5.8" height="5.8"/><rect x="313.6" y="521.4" width="5.8" height="5.8"/><rect x="144.3" y="525.5" width="5.8" height="5.8"/><rect x="153.4" y="539.4" width="5.8" height="5.8"/><rect x="134.4" y="550.2" width="5.8" height="5.8"/><rect x="156.6" y="558.4" width="5.8" height="5.8"/><rect x="184.8" y="556.1" width="5.8" height="5.8"/><rect x="139.3" y="570.2" width="5.8" height="5.8"/><rect x="145.5" y="580.1" width="5.8" height="5.8"/></g>
<rect x="73.50" y="273.50" width="484.00" height="436.00" fill="none" stroke="#000" stroke-width="1.25"/>
<text x="66.58" y="722.10" font-size="11.00" textLength="38.50" lengthAdjust="spacingAndGlyphs" fill="#000" >−100.0</text>
<text x="124.95" y="722.10" font-size="11.00" textLength="31.60" lengthAdjust="spacingAndGlyphs" fill="#000" >−99.5</text>
<text x="179.94" y="722.10" font-size="11.00" textLength="31.76" lengthAdjust="spacingAndGlyphs" fill="#000" >−99.0</text>
<text x="234.95" y="722.10" font-size="11.00" textLength="31.60" lengthAdjust="spacingAndGlyphs" fill="#000" >−98.5</text>
<text x="289.94" y="722.10" font-size="11.00" textLength="31.76" lengthAdjust="spacingAndGlyphs" fill="#000" >−98.0</text>
<text x="344.95" y="722.10" font-size="11.00" textLength="31.60" lengthAdjust="spacingAndGlyphs" fill="#000" >−97.5</text>
<text x="399.94" y="722.10" font-size="11.00" textLength="31.76" lengthAdjust="spacingAndGlyphs" fill="#000" >−97.0</text>
<text x="454.95" y="722.10" font-size="11.00" textLength="31.60" lengthAdjust="spacingAndGlyphs" fill="#000" >−96.5</text>
<text x="509.94" y="722.10" font-size="11.00" textLength="31.76" lengthAdjust="spacingAndGlyphs" fill="#000" >−96.0</text>
<text x="44.12" y="710.19" font-size="11.00" textLength="22.84" lengthAdjust="spacingAndGlyphs" fill="#000" >33.5</text>
<text x="44.12" y="649.72" font-size="11.00" textLength="23.00" lengthAdjust="spacingAndGlyphs" fill="#000" >34.0</text>
<text x="44.12" y="589.25" font-size="11.00" textLength="22.84" lengthAdjust="spacingAndGlyphs" fill="#000" >34.5</text>
<text x="44.12" y="528.78" font-size="11.00" textLength="23.00" lengthAdjust="spacingAndGlyphs" fill="#000" >35.0</text>
<text x="44.12" y="468.31" font-size="11.00" textLength="22.84" lengthAdjust="spacingAndGlyphs" fill="#000" >35.5</text>
<text x="44.12" y="407.84" font-size="11.00" textLength="23.00" lengthAdjust="spacingAndGlyphs" fill="#000" >36.0</text>
<text x="44.12" y="347.37" font-size="11.00" textLength="22.84" lengthAdjust="spacingAndGlyphs" fill="#000" >36.5</text>
<text x="44.12" y="286.90" font-size="11.00" textLength="23.00" lengthAdjust="spacingAndGlyphs" fill="#000" >37.0</text>
<text x="288.40" y="740.70" font-size="10.90" textLength="54.17" lengthAdjust="spacingAndGlyphs" fill="#000" >Longitude</text>
<text x="-22.35" y="0" font-size="10.90" textLength="44.77" lengthAdjust="spacingAndGlyphs" fill="#000" transform="translate(36.00 493.40) rotate(-90)" >Latitude</text>
<line x1="595.50" y1="654.00" x2="688.50" y2="654.00" stroke="#e8e8e8" stroke-width="1.6"/>
<line x1="595.50" y1="599.50" x2="688.50" y2="599.50" stroke="#e8e8e8" stroke-width="1.6"/>
<line x1="595.50" y1="545.00" x2="688.50" y2="545.00" stroke="#e8e8e8" stroke-width="1.6"/>
<line x1="595.50" y1="490.50" x2="688.50" y2="490.50" stroke="#e8e8e8" stroke-width="1.6"/>
<line x1="595.50" y1="436.00" x2="688.50" y2="436.00" stroke="#e8e8e8" stroke-width="1.6"/>
<line x1="595.50" y1="381.50" x2="688.50" y2="381.50" stroke="#e8e8e8" stroke-width="1.6"/>
<line x1="595.50" y1="327.00" x2="688.50" y2="327.00" stroke="#e8e8e8" stroke-width="1.6"/>
<line x1="641.00" y1="273.50" x2="641.00" y2="709.50" stroke="#e8e8e8" stroke-width="1.6"/>
<g fill="#0000c0"><path d="M616.5 274.6L618.7 276.8L616.5 279.0L614.3 276.8Z"/><path d="M623.5 276.5L625.7 278.7L623.5 280.9L621.3 278.7Z"/><path d="M613.4 291.2L615.6 293.4L613.4 295.6L611.2 293.4Z"/><path d="M631.7 278.0L633.9 280.2L631.7 282.4L629.5 280.2Z"/><path d="M633.5 281.7L635.7 283.9L633.5 286.1L631.3 283.9Z"/><path d="M639.0 279.8L641.2 282.0L639.0 284.2L636.8 282.0Z"/><path d="M645.7 281.0L647.9 283.2L645.7 285.4L643.5 283.2Z"/><path d="M649.4 279.8L651.6 282.0L649.4 284.2L647.2 282.0Z"/><path d="M659.8 278.2L662.0 280.4L659.8 282.6L657.6 280.4Z"/><path d="M664.6 273.1L666.8 275.3L664.6 277.5L662.4 275.3Z"/><path d="M669.5 280.7L671.7 282.9L669.5 285.1L667.3 282.9Z"/><path d="M682.7 275.6L684.9 277.8L682.7 280.0L680.5 277.8Z"/><path d="M661.0 291.8L663.2 294.0L661.0 296.2L658.8 294.0Z"/><path d="M642.7 276.8L644.9 279.0L642.7 281.2L640.5 279.0Z"/></g>
<g fill="#0064ff"><path d="M614.6 276.2L616.8 278.4L614.6 280.6L612.4 278.4Z"/><path d="M615.9 274.9L618.1 277.1L615.9 279.3L613.7 277.1Z"/><path d="M638.4 275.6L640.6 277.8L638.4 280.0L636.2 277.8Z"/></g>
<g fill="#00e6dc"><path d="M610.4 285.9L612.6 288.1L610.4 290.3L608.2 288.1Z"/><path d="M629.3 281.7L631.5 283.9L629.3 286.1L627.1 283.9Z"/><path d="M628.7 288.0L630.9 290.2L628.7 292.4L626.5 290.2Z"/><path d="M629.3 292.6L631.5 294.8L629.3 297.0L627.1 294.8Z"/><path d="M633.0 293.2L635.2 295.4L633.0 297.6L630.8 295.4Z"/><path d="M646.3 291.4L648.5 293.6L646.3 295.8L644.1 293.6Z"/><path d="M650.0 295.1L652.2 297.3L650.0 299.5L647.8 297.3Z"/><path d="M634.8 287.1L637.0 289.3L634.8 291.5L632.6 289.3Z"/></g>
<g fill="#ff1400"><path d="M642.7 273.1L644.9 275.3L642.7 277.5L640.5 275.3Z"/><path d="M647.0 272.5L649.2 274.7L647.0 276.9L644.8 274.7Z"/><path d="M651.2 273.7L653.4 275.9L651.2 278.1L649.0 275.9Z"/><path d="M654.3 274.3L656.5 276.5L654.3 278.7L652.1 276.5Z"/><path d="M661.0 271.7L663.2 273.9L661.0 276.1L658.8 273.9Z"/><path d="M679.3 274.9L681.5 277.1L679.3 279.3L677.1 277.1Z"/><path d="M678.7 276.8L680.9 279.0L678.7 281.2L676.5 279.0Z"/><path d="M632.9 278.0L635.1 280.2L632.9 282.4L630.7 280.2Z"/><path d="M636.6 279.8L638.8 282.0L636.6 284.2L634.4 282.0Z"/><path d="M641.5 278.0L643.7 280.2L641.5 282.4L639.3 280.2Z"/><path d="M644.5 277.4L646.7 279.6L644.5 281.8L642.3 279.6Z"/><path d="M648.2 279.8L650.4 282.0L648.2 284.2L646.0 282.0Z"/><path d="M654.3 281.7L656.5 283.9L654.3 286.1L652.1 283.9Z"/><path d="M657.3 277.4L659.5 279.6L657.3 281.8L655.1 279.6Z"/><path d="M654.9 282.8L657.1 285.0L654.9 287.2L652.7 285.0Z"/><path d="M657.9 283.5L660.1 285.7L657.9 287.9L655.7 285.7Z"/><path d="M653.7 288.4L655.9 290.6L653.7 292.8L651.5 290.6Z"/><path d="M655.5 291.4L657.7 293.6L655.5 295.8L653.3 293.6Z"/><path d="M642.7 281.0L644.9 283.2L642.7 285.4L640.5 283.2Z"/><path d="M635.4 288.4L637.6 290.6L635.4 292.8L633.2 290.6Z"/><path d="M648.8 288.4L651.0 290.6L648.8 292.8L646.6 290.6Z"/><path d="M650.0 290.8L652.2 293.0L650.0 295.2L647.8 293.0Z"/><path d="M676.8 286.5L679.0 288.7L676.8 290.9L674.6 288.7Z"/><path d="M674.4 292.0L676.6 294.2L674.4 296.4L672.2 294.2Z"/><path d="M672.0 293.8L674.2 296.0L672.0 298.2L669.8 296.0Z"/><path d="M647.6 287.1L649.8 289.3L647.6 291.5L645.4 289.3Z"/></g>
<g fill="#8c0000"><path d="M637.2 284.7L639.4 286.9L637.2 289.1L635.0 286.9Z"/><path d="M642.7 287.1L644.9 289.3L642.7 291.5L640.5 289.3Z"/><path d="M644.5 285.9L646.7 288.1L644.5 290.3L642.3 288.1Z"/><path d="M639.0 290.2L641.2 292.4L639.0 294.6L636.8 292.4Z"/><path d="M642.0 291.4L644.2 293.6L642.0 295.8L639.8 293.6Z"/><path d="M644.5 294.5L646.7 296.7L644.5 298.9L642.3 296.7Z"/><path d="M636.6 294.5L638.8 296.7L636.6 298.9L634.4 296.7Z"/><path d="M634.8 296.9L637.0 299.1L634.8 301.3L632.6 299.1Z"/><path d="M636.6 297.5L638.8 299.7L636.6 301.9L634.4 299.7Z"/><path d="M647.6 296.3L649.8 298.5L647.6 300.7L645.4 298.5Z"/><path d="M652.4 296.9L654.6 299.1L652.4 301.3L650.2 299.1Z"/><path d="M661.0 295.1L663.2 297.3L661.0 299.5L658.8 297.3Z"/><path d="M666.5 295.7L668.7 297.9L666.5 300.1L664.3 297.9Z"/><path d="M651.2 293.2L653.4 295.4L651.2 297.6L649.0 295.4Z"/><path d="M640.2 292.6L642.4 294.8L640.2 297.0L638.0 294.8Z"/></g>
<rect x="595.50" y="273.50" width="93.00" height="436.00" fill="none" stroke="#000" stroke-width="1.25"/>
<line x1="595.50" y1="704.50" x2="595.50" y2="709.50" stroke="#000" stroke-width="1.1"/>
<line x1="641.50" y1="704.50" x2="641.50" y2="709.50" stroke="#000" stroke-width="1.1"/>
<line x1="688.50" y1="704.50" x2="688.50" y2="709.50" stroke="#000" stroke-width="1.1"/>
<line x1="595.50" y1="708.50" x2="600.50" y2="708.50" stroke="#000" stroke-width="1.1"/>
<text x="561.37" y="712.40" font-size="11.00" textLength="28.40" lengthAdjust="spacingAndGlyphs" fill="#000" >−200</text>
<line x1="595.50" y1="654.50" x2="600.50" y2="654.50" stroke="#000" stroke-width="1.1"/>
<text x="561.37" y="657.90" font-size="11.00" textLength="28.40" lengthAdjust="spacingAndGlyphs" fill="#000" >−150</text>
<line x1="595.50" y1="599.50" x2="600.50" y2="599.50" stroke="#000" stroke-width="1.1"/>
<text x="561.37" y="603.40" font-size="11.00" textLength="28.40" lengthAdjust="spacingAndGlyphs" fill="#000" >−100</text>
<line x1="595.50" y1="545.50" x2="600.50" y2="545.50" stroke="#000" stroke-width="1.1"/>
<text x="568.10" y="548.90" font-size="11.00" textLength="21.67" lengthAdjust="spacingAndGlyphs" fill="#000" >−50</text>
<line x1="595.50" y1="490.50" x2="600.50" y2="490.50" stroke="#000" stroke-width="1.1"/>
<text x="583.50" y="494.40" font-size="11.00" textLength="6.20" lengthAdjust="spacingAndGlyphs" fill="#000" >0</text>
<line x1="595.50" y1="436.50" x2="600.50" y2="436.50" stroke="#000" stroke-width="1.1"/>
<text x="576.84" y="439.90" font-size="11.00" textLength="12.87" lengthAdjust="spacingAndGlyphs" fill="#000" >50</text>
<line x1="595.50" y1="381.50" x2="600.50" y2="381.50" stroke="#000" stroke-width="1.1"/>
<text x="570.05" y="385.40" font-size="11.00" textLength="19.73" lengthAdjust="spacingAndGlyphs" fill="#000" >100</text>
<line x1="595.50" y1="327.50" x2="600.50" y2="327.50" stroke="#000" stroke-width="1.1"/>
<text x="570.05" y="330.90" font-size="11.00" textLength="19.73" lengthAdjust="spacingAndGlyphs" fill="#000" >150</text>
<line x1="595.50" y1="273.50" x2="600.50" y2="273.50" stroke="#000" stroke-width="1.1"/>
<text x="569.97" y="277.40" font-size="11.00" textLength="19.81" lengthAdjust="spacingAndGlyphs" fill="#000" >200</text>
<text x="592.17" y="722.20" font-size="11.00" textLength="6.20" lengthAdjust="spacingAndGlyphs" fill="#000" >0</text>
<text x="633.65" y="722.20" font-size="11.00" textLength="12.91" lengthAdjust="spacingAndGlyphs" fill="#000" >10</text>
<text x="681.77" y="722.20" font-size="11.00" textLength="13.00" lengthAdjust="spacingAndGlyphs" fill="#000" >20</text>
<text x="607.68" y="740.80" font-size="10.90" textLength="66.27" lengthAdjust="spacingAndGlyphs" fill="#000" >Altitude, km</text>
<text x="-45.91" y="0" font-size="10.90" textLength="91.82" lengthAdjust="spacingAndGlyphs" fill="#000" transform="translate(700.20 491.70) rotate(-90)" >North-South, km</text></svg></body></html>
